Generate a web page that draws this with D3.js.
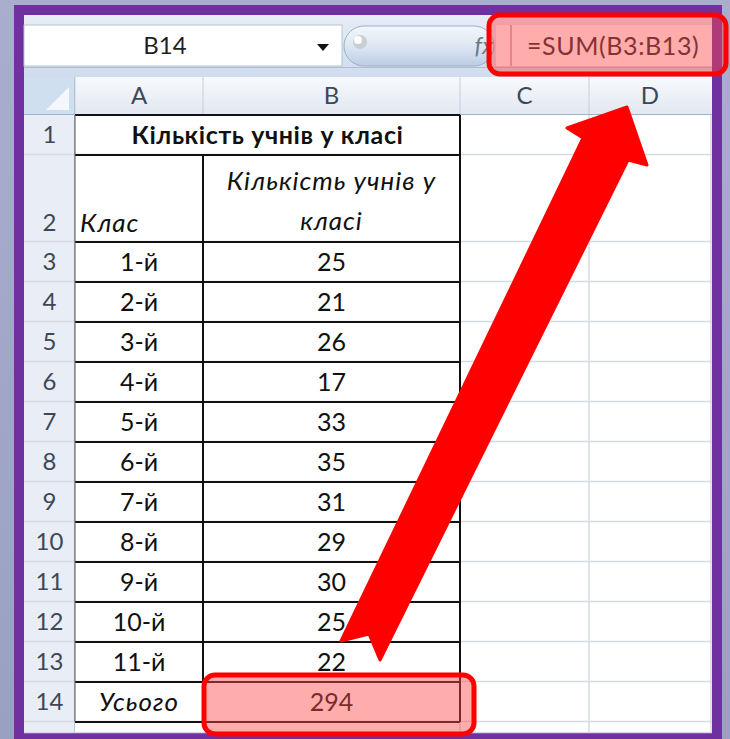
<!DOCTYPE html>
<html>
<head>
<meta charset="utf-8">
<script src="https://cdn.jsdelivr.net/npm/d3@7"></script>
<style>
  html, body { margin: 0; padding: 0; background: #a2a7c9; }
  svg { display: block; }
  text { font-family: Lato, "Open Sans", "Noto Sans", sans-serif; }
</style>
</head>
<body>
<svg id="chart"></svg>
<script>
// Sheet contents
const columns = ['A', 'B', 'C', 'D'];
const classes = ['1-й', '2-й', '3-й', '4-й', '5-й', '6-й', '7-й', '8-й', '9-й', '10-й', '11-й'];
const students = [25, 21, 26, 17, 33, 35, 31, 29, 30, 25, 22];
const titleText = 'Кількість учнів у класі';
const headerA = 'Клас';
const headerB = ['Кількість учнів у', 'класі'];
const totalLabel = 'Усього';
const formulaText = '=SUM(B3:B13)';
const activeCell = 'B14';

const total = d3.sum(students);

// Layout
const W = 730, H = 739;
const sheet = { left: 24, top: 15, right: 712, bottom: 733 };
const rowHeadW = 51;
const colWidths = [128, 257, 129, 122];
const colLeft = d3.scaleOrdinal()
    .domain(columns)
    .range(d3.cumsum([sheet.left + rowHeadW].concat(colWidths.slice(0, -1))));
const colW = d3.scaleOrdinal().domain(columns).range(colWidths);

const headTop = 77, headBottom = 115;
const row1 = [115, 155], row2 = [155, 242];
// rows 3..14 are all the same height
const yRow = d3.scaleBand()
    .domain(d3.range(3, 15))
    .range([242, 722])
    .paddingInner(0);

const svg = d3.select('#chart').attr('width', W).attr('height', H);
const defs = svg.append('defs');

function vGrad(id, stops) {
  const g = defs.append('linearGradient').attr('id', id)
      .attr('x1', 0).attr('y1', 0).attr('x2', 0).attr('y2', 1);
  stops.forEach(([o, c]) => g.append('stop').attr('offset', o).attr('stop-color', c));
}
vGrad('bgGrad', [[0, '#a9aecf'], [1, '#9aa0c2']]);
vGrad('barGrad', [[0, '#e6edf7'], [1, '#cfdced']]);
vGrad('headGrad', [[0, '#f7f9fc'], [1, '#e1e8f2']]);
vGrad('pillGrad', [[0, '#f3f7fc'], [0.5, '#dde7f3'], [1, '#bccde3']]);

// background + purple frame
svg.append('rect').attr('width', W).attr('height', H).attr('fill', 'url(#bgGrad)');
svg.append('rect').attr('x', 14).attr('y', 5).attr('width', 708).attr('height', H)
    .attr('fill', '#7030a0');
svg.append('rect').attr('x', sheet.left).attr('y', sheet.top)
    .attr('width', sheet.right - sheet.left).attr('height', sheet.bottom - sheet.top)
    .attr('fill', '#ffffff');

// ---- formula bar ----
const fb = svg.append('g');
fb.append('rect').attr('x', sheet.left).attr('y', sheet.top)
    .attr('width', sheet.right - sheet.left).attr('height', headTop - sheet.top)
    .attr('fill', 'url(#barGrad)');
// name box
fb.append('rect').attr('x', sheet.left).attr('y', 25).attr('width', 318).attr('height', 41)
    .attr('fill', '#ffffff').attr('stroke', '#b6c3d4');
fb.append('text').attr('x', 165).attr('y', 46).attr('dy', '0.35em')
    .attr('text-anchor', 'middle').attr('font-size', 24).attr('fill', '#1f1f1f')
    .text(activeCell);
fb.append('path').attr('d', 'M317,44 L329,44 L323,51 Z').attr('fill', '#111');
// round button
fb.append('rect').attr('x', 344).attr('y', 26).attr('width', 150).attr('height', 40)
    .attr('rx', 20).attr('fill', 'url(#pillGrad)').attr('stroke', '#9fb0c6');
fb.append('circle').attr('cx', 360).attr('cy', 42).attr('r', 7).attr('fill', '#c9cdd4');
fb.append('circle').attr('cx', 358).attr('cy', 40).attr('r', 4).attr('fill', '#ffffff');
fb.append('text').attr('x', 484).attr('y', 46).attr('dy', '0.35em')
    .attr('text-anchor', 'middle').attr('font-size', 24).attr('font-style', 'italic')
    .attr('font-family', 'serif').attr('fill', '#6b7a8c').text('fx');
// formula input
fb.append('rect').attr('x', 496).attr('y', 25).attr('width', sheet.right - 496).attr('height', 41)
    .attr('fill', '#ffffff');
fb.append('line').attr('x1', 511).attr('x2', 511).attr('y1', 25).attr('y2', 66)
    .attr('stroke', '#9a6f7a');
fb.append('text').attr('x', 527).attr('y', 46).attr('dy', '0.35em')
    .attr('font-size', 25).attr('letter-spacing', 0.6).attr('fill', '#222').text(formulaText);
fb.append('line').attr('x1', sheet.left).attr('x2', sheet.right).attr('y1', 67.5).attr('y2', 67.5)
    .attr('stroke', '#b0bdcf');

// ---- column headers ----
const hdr = svg.append('g');
hdr.append('rect').attr('x', sheet.left).attr('y', headTop)
    .attr('width', sheet.right - sheet.left).attr('height', headBottom - headTop)
    .attr('fill', 'url(#headGrad)');
hdr.append('rect').attr('x', sheet.left).attr('y', headTop)
    .attr('width', rowHeadW).attr('height', headBottom - headTop).attr('fill', '#cfdff0');
hdr.append('path')
    .attr('d', `M${sheet.left + rowHeadW - 6},${headBottom - 28} L${sheet.left + rowHeadW - 6},${headBottom - 5} L${sheet.left + rowHeadW - 29},${headBottom - 5} Z`)
    .attr('fill', '#f4f7fb');
hdr.selectAll('line.sep').data(columns).join('line').attr('class', 'sep')
    .attr('x1', d => colLeft(d)).attr('x2', d => colLeft(d))
    .attr('y1', headTop).attr('y2', headBottom)
    .attr('stroke', '#c3cedc');
hdr.selectAll('text').data(columns).join('text')
    .attr('x', d => colLeft(d) + colW(d) / 2).attr('y', (headTop + headBottom) / 2)
    .attr('dy', '0.35em').attr('text-anchor', 'middle')
    .attr('font-size', 24).attr('fill', '#3c4858').text(d => d);
hdr.append('line').attr('x1', sheet.left).attr('x2', sheet.right)
    .attr('y1', headBottom - 0.5).attr('y2', headBottom - 0.5).attr('stroke', '#9eb3cc');

// ---- row headers ----
const rowSpans = [{ n: 1, y0: row1[0], y1: row1[1] }, { n: 2, y0: row2[0], y1: row2[1] }]
    .concat(yRow.domain().map(n => ({ n, y0: yRow(n), y1: yRow(n) + yRow.bandwidth() })))
    .concat([{ n: 15, y0: 722, y1: sheet.bottom }]);

const rh = svg.append('g');
rh.append('rect').attr('x', sheet.left).attr('y', headBottom)
    .attr('width', rowHeadW).attr('height', sheet.bottom - headBottom).attr('fill', '#e9eef6');

// light grid lines over the whole sheet
const grid = svg.append('g');
grid.selectAll('line.row').data(rowSpans).join('line').attr('class', 'row')
    .attr('x1', sheet.left).attr('x2', sheet.right)
    .attr('y1', d => d.y1 - 0.5).attr('y2', d => d.y1 - 0.5)
    .attr('stroke', '#d5dbe4').attr('stroke-width', 1.5);
grid.selectAll('line.col').data(columns.slice(1)).join('line').attr('class', 'col')
    .attr('x1', d => colLeft(d) + colW(d)).attr('x2', d => colLeft(d) + colW(d))
    .attr('y1', headBottom).attr('y2', sheet.bottom)
    .attr('stroke', '#d5dbe4').attr('stroke-width', 1.5);
grid.append('line').attr('x1', colLeft('A') - 0.5).attr('x2', colLeft('A') - 0.5)
    .attr('y1', headTop).attr('y2', sheet.bottom).attr('stroke', '#b6c6d9');

rh.selectAll('text').data(rowSpans.filter(d => d.n < 15)).join('text')
    .attr('x', sheet.left + rowHeadW / 2)
    .attr('y', d => d.n === 2 ? d.y1 - 19 : (d.y0 + d.y1) / 2)
    .attr('dy', '0.35em').attr('text-anchor', 'middle')
    .attr('font-size', 24).attr('fill', '#3c4858').text(d => d.n);

// ---- table cells ----
const xA = colLeft('A'), xB = colLeft('B'), xC = colLeft('C');
const cells = svg.append('g');
const cellFont = 25;

cells.append('text').attr('x', (xA + xC) / 2).attr('y', (row1[0] + row1[1]) / 2)
    .attr('dy', '0.35em').attr('text-anchor', 'middle').attr('font-weight', 'bold')
    .attr('font-size', 25).attr('letter-spacing', 0.6).attr('fill', '#111').text(titleText);
cells.append('text').attr('x', xA + 5).attr('y', row2[1] - 10)
    .attr('font-style', 'italic').attr('font-size', 26).attr('letter-spacing', 1)
    .attr('fill', '#111').text(headerA);
cells.selectAll('text.hb').data(headerB).join('text').attr('class', 'hb')
    .attr('x', xB + colW('B') / 2).attr('y', (d, i) => row2[0] + 35 + i * 40)
    .attr('text-anchor', 'middle').attr('font-style', 'italic').attr('letter-spacing', 1)
    .attr('font-size', 26).attr('fill', '#111').text(d => d);

const body = classes.map((c, i) => ({ row: i + 3, label: c, value: students[i] }));
cells.selectAll('text.cls').data(body).join('text').attr('class', 'cls')
    .attr('x', xA + colW('A') / 2).attr('y', d => yRow(d.row) + yRow.bandwidth() / 2)
    .attr('dy', '0.35em').attr('text-anchor', 'middle')
    .attr('font-size', cellFont).attr('fill', '#111').text(d => d.label);
cells.selectAll('text.val').data(body).join('text').attr('class', 'val')
    .attr('x', xB + colW('B') / 2).attr('y', d => yRow(d.row) + yRow.bandwidth() / 2)
    .attr('dy', '0.35em').attr('text-anchor', 'middle')
    .attr('font-size', cellFont).attr('fill', '#111').text(d => d.value);

const yT = yRow(14) + yRow.bandwidth() / 2;
cells.append('text').attr('x', xA + colW('A') / 2).attr('y', yT).attr('dy', '0.35em')
    .attr('text-anchor', 'middle').attr('font-style', 'italic').attr('letter-spacing', 1)
    .attr('font-size', 26).attr('fill', '#111').text(totalLabel);
cells.append('text').attr('x', xB + colW('B') / 2).attr('y', yT).attr('dy', '0.35em')
    .attr('text-anchor', 'middle').attr('font-size', cellFont).attr('fill', '#111').text(total);

// black borders of A1:B14
const borders = svg.append('g').attr('stroke', '#111').attr('stroke-width', 2);
const hLines = [row1[0], row1[1], row2[1]].concat(yRow.domain().map(n => yRow(n) + yRow.bandwidth()));
borders.selectAll('line.h').data(hLines).join('line').attr('class', 'h')
    .attr('x1', xA).attr('x2', xC).attr('y1', d => d).attr('y2', d => d);
borders.append('line').attr('x1', xB).attr('x2', xB).attr('y1', row1[1]).attr('y2', 722);
borders.append('line').attr('x1', xC).attr('x2', xC).attr('y1', row1[0]).attr('y2', 722);
borders.append('line').attr('x1', xA).attr('x2', xA).attr('y1', row1[0]).attr('y2', 722)
    .attr('stroke', '#555').attr('stroke-width', 1);

// ---- red callouts ----
const callout = svg.append('g');
callout.append('rect').attr('x', 489).attr('y', 15).attr('width', 237).attr('height', 59)
    .attr('rx', 11).attr('fill', 'rgba(255,70,70,0.45)')
    .attr('stroke', '#ff0000').attr('stroke-width', 5);
callout.append('rect').attr('x', xB + 1).attr('y', 675).attr('width', 270).attr('height', 59)
    .attr('rx', 11).attr('fill', 'rgba(255,70,70,0.45)')
    .attr('stroke', '#ff0000').attr('stroke-width', 5);

// arrow from the total up to the formula
const arrowPts = [[341, 641], [583, 138], [567, 128], [627, 107], [647, 165],
  [628, 160], [380, 660], [369, 634]];
callout.append('path')
    .attr('d', d3.line()(arrowPts) + 'Z')
    .attr('fill', '#ff0000').attr('stroke', '#ff0000').attr('stroke-width', 3)
    .attr('stroke-linejoin', 'round');
</script>
</body>
</html>
